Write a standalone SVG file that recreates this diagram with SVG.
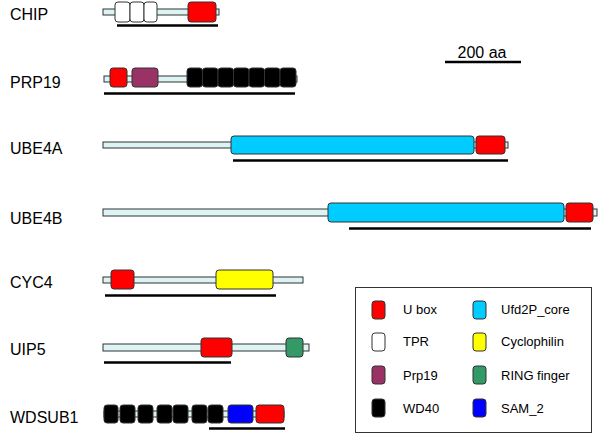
<svg xmlns="http://www.w3.org/2000/svg" width="600" height="435" viewBox="0 0 600 435">
<style>
.lbl{font-family:"Liberation Sans",Arial,sans-serif;font-size:16px;fill:#000}
.leg{font-family:"Liberation Sans",Arial,sans-serif;font-size:13px;fill:#000}
.bb{fill:#dcf4f4;stroke:#333;stroke-width:1}
.d{stroke:#333;stroke-width:1}
.ul{stroke:#000;stroke-width:2.5;fill:none}
.ub{fill:#ff0000}.tpr{fill:#ffffff}.prp{fill:#993366}.wd{fill:#000000}
.ufd{fill:#00ccff}.cyc{fill:#ffff00}.ring{fill:#339966}.sam{fill:#0000ff}
</style>
<rect width="600" height="435" fill="#fff"/>

<g id="CHIP">
<text class="lbl" x="10" y="20">CHIP</text>
<rect class="bb" x="103" y="9" width="116" height="6"/>
<rect class="d tpr" x="115" y="2" width="15" height="20" rx="3"/>
<rect class="d tpr" x="130" y="2" width="14" height="20" rx="3"/>
<rect class="d tpr" x="144" y="2" width="13" height="20" rx="3"/>
<rect class="d ub" x="188" y="2" width="28" height="20" rx="3"/>
<line class="ul" x1="117" y1="25.5" x2="218" y2="25.5"/>
</g>

<g id="PRP19">
<text class="lbl" x="10" y="88">PRP19</text>
<rect class="bb" x="104" y="76" width="193" height="6"/>
<rect class="d ub" x="110" y="68" width="17" height="19" rx="3"/>
<rect class="d prp" x="132" y="68" width="26" height="19" rx="3"/>
<rect class="d wd" x="187" y="68" width="15.5" height="19" rx="3"/>
<rect class="d wd" x="202.5" y="68" width="15.5" height="19" rx="3"/>
<rect class="d wd" x="218" y="68" width="15.5" height="19" rx="3"/>
<rect class="d wd" x="233.5" y="68" width="15.5" height="19" rx="3"/>
<rect class="d wd" x="249" y="68" width="15.5" height="19" rx="3"/>
<rect class="d wd" x="264.5" y="68" width="15.5" height="19" rx="3"/>
<rect class="d wd" x="280" y="68" width="16" height="19" rx="3"/>
<line class="ul" x1="104" y1="93.5" x2="295" y2="93.5"/>
</g>

<g id="UBE4A">
<text class="lbl" x="10" y="154">UBE4A</text>
<rect class="bb" x="103" y="142" width="405" height="6"/>
<rect class="d ufd" x="231" y="136" width="243" height="18" rx="3"/>
<rect class="d ub" x="476" y="136" width="29" height="18" rx="3"/>
<line class="ul" x1="233" y1="160.5" x2="508" y2="160.5"/>
</g>

<g id="UBE4B">
<text class="lbl" x="10" y="224">UBE4B</text>
<rect class="bb" x="103" y="209" width="494" height="7"/>
<rect class="d ufd" x="328" y="203" width="236" height="19" rx="3"/>
<rect class="d ub" x="566" y="203" width="27" height="19" rx="3"/>
<line class="ul" x1="349" y1="228.5" x2="591" y2="228.5"/>
</g>

<g id="CYC4">
<text class="lbl" x="10" y="288">CYC4</text>
<rect class="bb" x="103" y="277" width="200" height="6"/>
<rect class="d ub" x="111" y="270" width="23" height="19" rx="3"/>
<rect class="d cyc" x="216" y="270" width="57" height="19" rx="3"/>
<line class="ul" x1="105" y1="295.5" x2="276" y2="295.5"/>
</g>

<g id="UIP5">
<text class="lbl" x="10" y="355">UIP5</text>
<rect class="bb" x="103" y="344" width="206" height="7"/>
<rect class="d ub" x="201" y="338" width="31" height="19" rx="3"/>
<rect class="d ring" x="286" y="338" width="17" height="19" rx="3"/>
<line class="ul" x1="104" y1="362.5" x2="231" y2="362.5"/>
</g>

<g id="WDSUB1">
<text class="lbl" x="10" y="423">WDSUB1</text>
<rect class="bb" x="104" y="411" width="180" height="6"/>
<rect class="d wd" x="104" y="405" width="14" height="18" rx="3"/>
<rect class="d wd" x="120" y="405" width="15" height="18" rx="3"/>
<rect class="d wd" x="138" y="405" width="15" height="18" rx="3"/>
<rect class="d wd" x="157" y="405" width="15" height="18" rx="3"/>
<rect class="d wd" x="173" y="405" width="15" height="18" rx="3"/>
<rect class="d wd" x="192" y="405" width="15" height="18" rx="3"/>
<rect class="d wd" x="208" y="405" width="15" height="18" rx="3"/>
<rect class="d sam" x="228" y="405" width="25" height="18" rx="3"/>
<rect class="d ub" x="256" y="405" width="28" height="18" rx="3"/>
<line class="ul" x1="209" y1="428.5" x2="285" y2="428.5"/>
</g>

<g id="scale">
<text class="lbl" x="482" y="58" text-anchor="middle">200 aa</text>
<line class="ul" x1="445" y1="62" x2="521" y2="62"/>
</g>

<g id="legend">
<rect x="355.5" y="287.5" width="236" height="145" fill="#fff" stroke="#333" stroke-width="1"/>
<rect class="d ub" x="372" y="301" width="13" height="18" rx="3"/>
<text class="leg" x="403" y="314">U box</text>
<rect class="d tpr" x="372" y="333" width="13" height="18" rx="3"/>
<text class="leg" x="403" y="346">TPR</text>
<rect class="d prp" x="372" y="366" width="13" height="18" rx="3"/>
<text class="leg" x="403" y="380">Prp19</text>
<rect class="d wd" x="372" y="399" width="13" height="18" rx="3"/>
<text class="leg" x="403" y="413">WD40</text>
<rect class="d ufd" x="473" y="301" width="13" height="18" rx="3"/>
<text class="leg" x="501" y="314">Ufd2P_core</text>
<rect class="d cyc" x="473" y="333" width="13" height="18" rx="3"/>
<text class="leg" x="501" y="346">Cyclophilin</text>
<rect class="d ring" x="473" y="366" width="13" height="18" rx="3"/>
<text class="leg" x="501" y="380">RING finger</text>
<rect class="d sam" x="473" y="399" width="13" height="18" rx="3"/>
<text class="leg" x="501" y="413">SAM_2</text>
</g>
</svg>
